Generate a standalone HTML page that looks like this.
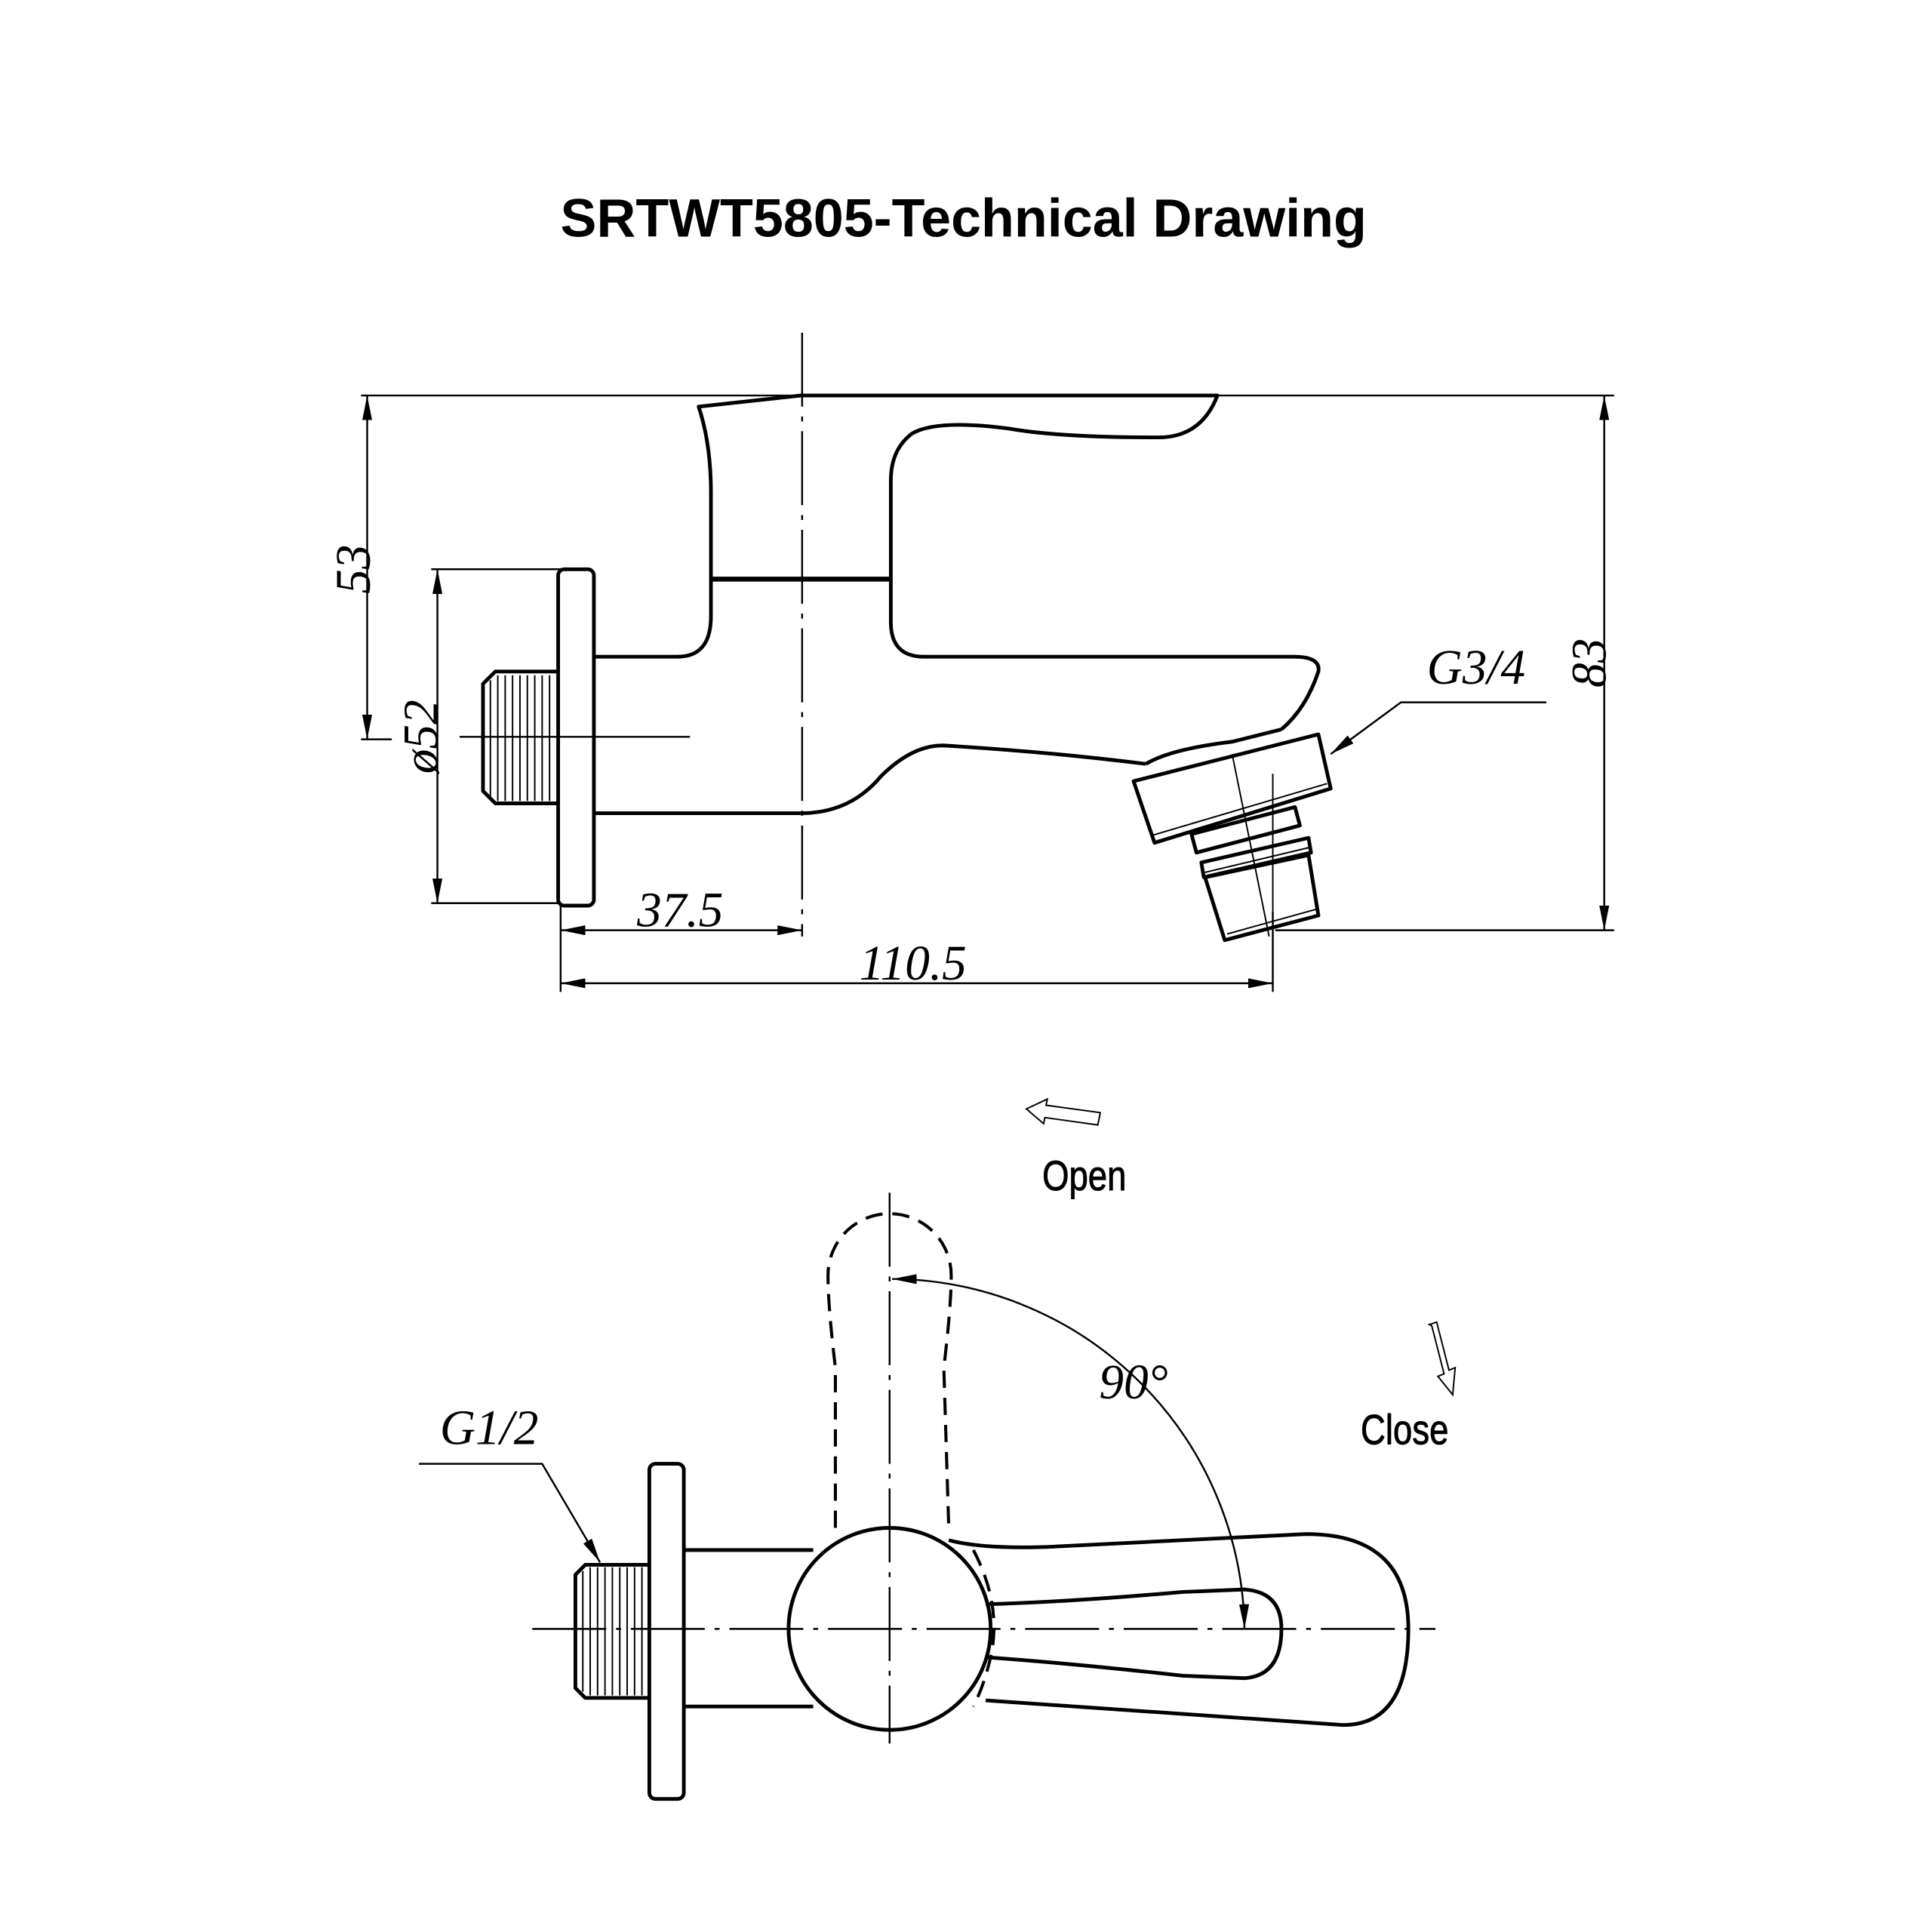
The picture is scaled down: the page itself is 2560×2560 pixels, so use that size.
<!DOCTYPE html>
<html><head><meta charset="utf-8"><style>
html,body{margin:0;padding:0;background:#fff}
svg{display:block}
text{font-family:"Liberation Sans",sans-serif}
.t{font-family:"Liberation Serif",serif;font-style:italic;font-size:40px}
</style></head><body>
<svg width="2560" height="2560" viewBox="0 0 1568 1568" xmlns="http://www.w3.org/2000/svg">
<defs>
<marker id="a" viewBox="0 0 20 8" refX="20" refY="4" markerWidth="20" markerHeight="8" markerUnits="userSpaceOnUse" orient="auto-start-reverse"><path d="M0,0L20,4L0,8z" fill="#000"/></marker>
</defs>
<rect width="1568" height="1568" fill="#fff"/>
<text x="782" y="192" font-size="44" font-weight="bold" text-anchor="middle">SRTWT5805-Technical Drawing</text>

<g fill="none" stroke="#000" stroke-width="1.5">
<line x1="651" y1="270" x2="651" y2="760" stroke-dasharray="60,8,4,8"/>
<line x1="293" y1="321" x2="1310" y2="321"/>
<line x1="298" y1="321" x2="298" y2="600" marker-start="url(#a)" marker-end="url(#a)"/>
<line x1="293" y1="600" x2="318" y2="600"/>
<line x1="355" y1="462" x2="355" y2="733" marker-start="url(#a)" marker-end="url(#a)"/>
<line x1="350" y1="462" x2="455" y2="462"/>
<line x1="350" y1="733" x2="455" y2="733"/>
<line x1="373" y1="598" x2="560" y2="598"/>
<line x1="1302" y1="321" x2="1302" y2="755" marker-start="url(#a)" marker-end="url(#a)"/>
<line x1="1035" y1="755" x2="1310" y2="755"/>
<line x1="455" y1="735" x2="455" y2="805"/>
<line x1="1033" y1="740" x2="1033" y2="805"/>
<line x1="455" y1="755" x2="651" y2="755" marker-start="url(#a)" marker-end="url(#a)"/>
<line x1="455" y1="798" x2="1033" y2="798" marker-start="url(#a)" marker-end="url(#a)"/>
<polyline points="1255,570 1137,570 1080,612" marker-end="url(#a)"/>
</g>

<g fill="none" stroke="#000" stroke-width="3" stroke-linejoin="round">
<rect x="453" y="462" width="29" height="273" rx="5"/>
<path d="M453,545 L402,545 L392,555 L392,642 L402,652 L453,652"/>
<path d="M482,533 L550,533 Q577,533 577,500 L577,400 Q577,360 567,330 L650,321 L988,321 Q975,355 940,355 Q860,355 820,348 Q760,340 740,352 Q723,365 723,390 L723,505 Q723,533 750,533 L1050,533 Q1072,533 1070,545 Q1060,575 1040,592"/>
<path d="M482,660 L650,660 Q690,660 715,630 Q740,605 765,605 Q850,610 930,620"/>
<line x1="577" y1="470" x2="723" y2="470" stroke-width="4"/>
<polygon points="920,634 1070,596 1080,640 937,684"/>
<polygon points="967,677 1051,655 1055,670 971,692"/>
<polygon points="975,700 1062,680 1064,692 977,712"/>
<polygon points="978,712 1062,694 1070,743 994,763"/>
<path d="M930,620 Q950,608 1000,602 L1040,592"/>
</g>
<g stroke="#000" stroke-width="1.2">
<line x1="398" y1="552" x2="398" y2="646"/><line x1="404" y1="548" x2="404" y2="650"/><line x1="410" y1="548" x2="410" y2="650"/><line x1="416" y1="548" x2="416" y2="650"/><line x1="422" y1="548" x2="422" y2="650"/><line x1="428" y1="548" x2="428" y2="650"/><line x1="434" y1="548" x2="434" y2="650"/><line x1="440" y1="548" x2="440" y2="650"/><line x1="446" y1="548" x2="446" y2="650"/>
<line x1="1000" y1="612" x2="1030" y2="760"/><line x1="1033" y1="628" x2="1033" y2="770"/>
<line x1="935" y1="678" x2="1077" y2="636"/><line x1="978" y1="708" x2="1062" y2="688"/><line x1="996" y1="758" x2="1068" y2="738"/>
</g>
<text class="t" transform="translate(300,462) rotate(-90)" text-anchor="middle">53</text>
<text class="t" transform="translate(355,598) rotate(-90)" text-anchor="middle">ø52</text>
<text class="t" transform="translate(1303,538) rotate(-90)" text-anchor="middle">83</text>
<text class="t" x="1198" y="555" text-anchor="middle">G3/4</text>
<text class="t" x="552" y="752" text-anchor="middle">37.5</text>
<text class="t" x="741" y="795" text-anchor="middle">110.5</text>

<g fill="none" stroke="#000" stroke-width="1.2">
<path d="M833,900 L850,892 L849,897 L893,903 L891,913 L848,907 L847,912 Z"/>
<path d="M1160,1075 L1166,1073 L1176,1112 L1181,1110 L1179,1132 L1167,1117 L1172,1115 L1162,1076 Z"/>
</g>
<text font-size="34" text-anchor="middle" transform="translate(880,966) scale(0.82,1)" stroke="#000" stroke-width="0.6">Open</text>
<text font-size="34" text-anchor="middle" transform="translate(1140,1172) scale(0.82,1)" stroke="#000" stroke-width="0.6">Close</text>

<g fill="none" stroke="#000" stroke-width="1.5">
<line x1="722" y1="968" x2="722" y2="1415" stroke-dasharray="60,8,4,8"/>
<line x1="432" y1="1322" x2="1165" y2="1322" stroke-dasharray="60,8,4,8"/>
<path d="M724,1038 A288,288 0 0 1 1010,1322" marker-start="url(#a)" marker-end="url(#a)"/>
<polyline points="340,1188 440,1188 487,1268" marker-end="url(#a)"/>
</g>
<g fill="none" stroke="#000" stroke-width="3" stroke-linejoin="round">
<rect x="527" y="1188" width="28" height="272" rx="5"/>
<path d="M527,1270 L475,1270 L467,1278 L467,1370 L475,1378 L527,1378"/>
<line x1="555" y1="1258" x2="660" y2="1258"/>
<line x1="555" y1="1385" x2="660" y2="1385"/>
<circle cx="722" cy="1322" r="82"/>
<path d="M770,1250 Q800,1258 860,1255 L1060,1245 Q1143,1245 1143,1322 Q1143,1400 1090,1400 L800,1380"/>
<path d="M800,1302 Q870,1300 960,1292 L1010,1290 Q1040,1292 1040,1322 Q1040,1360 1010,1362 L960,1360 Q870,1350 800,1345"/>
</g>
<g fill="none" stroke="#000" stroke-width="2.5" stroke-dasharray="14,8">
<path d="M678,1240 L678,1110 Q672,1060 672,1035 A50,50 0 0 1 772,1035 Q772,1060 766,1110 L770,1240"/>
<path d="M790,1258 Q812,1300 805,1340 Q800,1365 790,1385"/>
</g>
<g stroke="#000" stroke-width="1.2">
<line x1="473" y1="1275" x2="473" y2="1373"/><line x1="479" y1="1272" x2="479" y2="1376"/><line x1="485" y1="1272" x2="485" y2="1376"/><line x1="491" y1="1272" x2="491" y2="1376"/><line x1="497" y1="1272" x2="497" y2="1376"/><line x1="503" y1="1272" x2="503" y2="1376"/><line x1="509" y1="1272" x2="509" y2="1376"/><line x1="515" y1="1272" x2="515" y2="1376"/><line x1="521" y1="1272" x2="521" y2="1376"/>
</g>
<text class="t" x="920" y="1135" text-anchor="middle">90°</text>
<text class="t" x="397" y="1172" text-anchor="middle">G1/2</text>
</svg>
</body></html>
